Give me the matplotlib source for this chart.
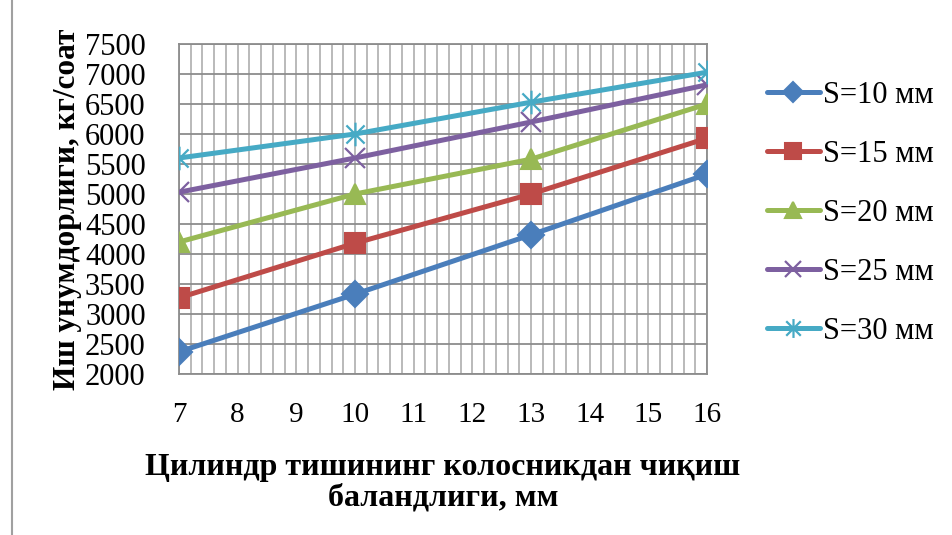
import numpy as np
import matplotlib.pyplot as plt
from matplotlib.path import Path
from matplotlib.lines import Line2D
from matplotlib.ticker import MultipleLocator

plt.rcParams['font.family'] = ['Liberation Serif', 'DejaVu Serif']

# height of the cylinder tooth above the grate, mm
heights = [7, 10, 13, 16]

s10 = [2370, 3330, 4320, 5330]
s15 = [3270, 4180, 5000, 5930]
s20 = [4200, 5000, 5580, 6500]
s25 = [5030, 5600, 6200, 6820]
s30 = [5600, 6000, 6530, 7030]

labels = ["S=10 мм", "S=15 мм", "S=20 мм", "S=25 мм", "S=30 мм"]
colors = ["#4A7EBB", "#BE4B48", "#98B954", "#7D60A0", "#46AAC5"]

# asterisk marker: an "x" crossed by a vertical stroke
star = Path(
    [(-1, -1), (1, 1), (-1, 1), (1, -1), (0, -1.3), (0, 1.3)],
    [Path.MOVETO, Path.LINETO, Path.MOVETO, Path.LINETO, Path.MOVETO, Path.LINETO],
)
markers = ["D", "s", "^", "x", star]
msizes = [13, 15, 14, 15, 17]

fig = plt.figure(figsize=(9.52, 5.35), dpi=100)
ax = fig.add_axes([179 / 952, 1 - 374 / 535, (707 - 179) / 952, (374 - 44) / 535])

for vals, lab, col, mk, ms in zip([s10, s15, s20, s25, s30], labels, colors, markers, msizes):
    filled = mk in ("D", "s", "^")
    ax.plot(heights, vals, color=col, linewidth=3.6, marker=mk, markersize=ms,
            markeredgewidth=1.5 if filled else 1.6,
            markerfacecolor=col, markeredgecolor=col, label=lab,
            solid_capstyle="round", zorder=3)

ax.set_xlim(7, 16)
ax.set_ylim(2000, 7500)
ax.xaxis.set_major_locator(MultipleLocator(1))
ax.xaxis.set_minor_locator(MultipleLocator(0.2))
ax.yaxis.set_major_locator(MultipleLocator(500))

ax.grid(which="major", axis="y", color="#8C8C8C", linewidth=1.3)
ax.grid(which="both", axis="x", color="#B4B4B4", linewidth=1.3)
ax.set_axisbelow(True)

for sp in ax.spines.values():
    sp.set_color("#8C8C8C")
    sp.set_linewidth(1.3)

ax.tick_params(which="both", length=0)
ax.tick_params(axis="y", labelsize=22, pad=24)
ax.tick_params(axis="x", labelsize=21, pad=20)

ax.set_ylabel("Иш унумдорлиги, кг/соат", fontsize=22.5, fontweight="bold")
ax.yaxis.set_label_coords(-0.184, 0.5)
ax.set_xlabel("Цилиндр тишининг колосникдан чиқиш\nбаландлиги, мм", fontsize=23,
              fontweight="bold", linespacing=1.05)
ax.xaxis.set_label_coords(0.5, -0.24)

ax.legend(loc="upper left", bbox_to_anchor=(1.09, 0.925), frameon=False, fontsize=22,
          handlelength=1.75, handletextpad=0.1, labelspacing=0.98, borderaxespad=0,
          markerscale=0.8)

# left frame edge of the chart object
fig.add_artist(Line2D([12 / 952, 12 / 952], [0, 1], color="#A0A0A0", linewidth=1.5))

fig.savefig("out.png", dpi=100)
